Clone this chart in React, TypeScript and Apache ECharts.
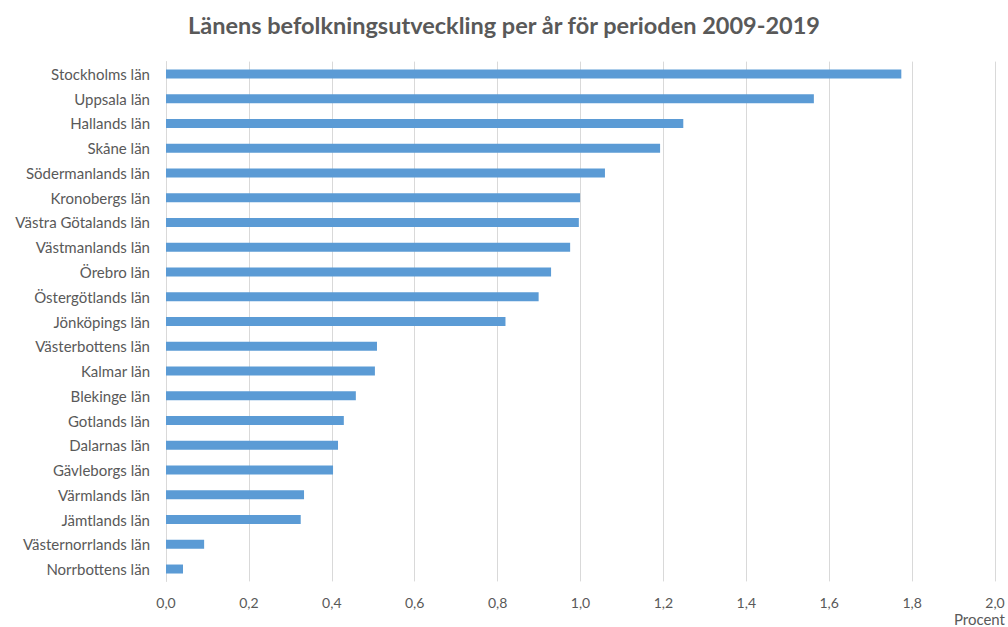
import React, { useEffect, useRef } from "react";
import * as echarts from "echarts";

const categories = [
  "Stockholms län",
  "Uppsala län",
  "Hallands län",
  "Skåne län",
  "Södermanlands län",
  "Kronobergs län",
  "Västra Götalands län",
  "Västmanlands län",
  "Örebro län",
  "Östergötlands län",
  "Jönköpings län",
  "Västerbottens län",
  "Kalmar län",
  "Blekinge län",
  "Gotlands län",
  "Dalarnas län",
  "Gävleborgs län",
  "Värmlands län",
  "Jämtlands län",
  "Västernorrlands län",
  "Norrbottens län",
];

const values = [
  1.774, 1.563, 1.248, 1.192, 1.059, 0.999, 0.996, 0.975, 0.929, 0.899, 0.819,
  0.509, 0.504, 0.458, 0.429, 0.415, 0.403, 0.333, 0.325, 0.092, 0.041,
];

const title = "Länens befolkningsutveckling per år för perioden 2009-2019";
const axisName = "Procent";

export default function App() {
  const ref = useRef<HTMLDivElement>(null);
  useEffect(() => {
    document.body.style.margin = "0";
    if (!ref.current) return;
    const chart = echarts.init(ref.current, null, { renderer: "svg" });
    const font = "Lato, 'Open Sans', sans-serif";
    chart.setOption({
      animation: false,
      textStyle: { fontFamily: font },
      title: {
        text: title,
        left: "center",
        top: 8,
        textStyle: { fontFamily: font, fontSize: 23.5, fontWeight: "bold", color: "#595959" },
      },
      grid: { left: 166, right: 13, top: 61.6, bottom: 45.6, containLabel: false },
      xAxis: {
        type: "value",
        min: 0,
        max: 2,
        interval: 0.2,
        axisLine: { show: false },
        axisTick: { show: false },
        splitLine: { show: true, lineStyle: { color: "#d9d9d9", width: 1 } },
        axisLabel: {
          color: "#595959",
          fontSize: 14,
          margin: 14,
          formatter: (v: number) => v.toFixed(1).replace(".", ","),
        },
      },
      yAxis: {
        type: "category",
        data: categories,
        inverse: true,
        axisLine: { show: true, lineStyle: { color: "#d9d9d9" } },
        axisTick: { show: false },
        axisLabel: { color: "#595959", fontSize: 15, margin: 16 },
      },
      graphic: [
        {
          type: "text",
          right: 3,
          top: 611,
          style: { text: axisName, fill: "#595959", font: `15px ${font}` },
        },
      ],
      series: [
        {
          type: "bar",
          data: values,
          barWidth: 9,
          itemStyle: { color: "#5b9bd5" },
        },
      ],
    });
    return () => chart.dispose();
  }, []);
  return <div ref={ref} style={{ width: 1008, height: 627 }} />;
}
